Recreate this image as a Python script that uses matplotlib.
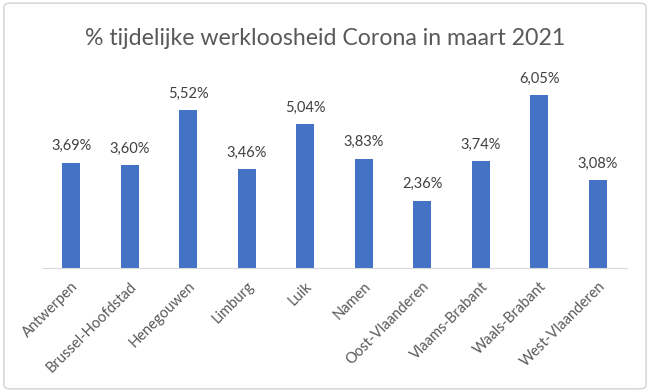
import matplotlib.pyplot as plt
from matplotlib.patches import FancyBboxPatch

provinces = ["Antwerpen", "Brussel-Hoofdstad", "Henegouwen", "Limburg", "Luik",
             "Namen", "Oost-Vlaanderen", "Vlaams-Brabant", "Waals-Brabant", "West-Vlaanderen"]
values = [3.69, 3.60, 5.52, 3.46, 5.04, 3.83, 2.36, 3.74, 6.05, 3.08]

plt.rcParams['font.family'] = ['Lato', 'DejaVu Sans']

fig = plt.figure(figsize=(6.5, 3.92), dpi=100)
ax = fig.add_axes([0.0646, 0.3163, 0.9, 0.51])

x = range(len(provinces))
bars = ax.bar(x, values, width=0.31, color="#4472C4")
for b, v in zip(bars, values):
    ax.text(b.get_x() + b.get_width() / 2, v + 0.33, f"{v:.2f}%".replace(".", ","),
            ha="center", va="bottom", fontsize=10.5, color="#404040")

ax.set_xlim(-0.5, len(provinces) - 0.5)
ax.set_ylim(0, 7)
ax.set_xticks(list(x))
ax.set_xticklabels(provinces, rotation=45, ha="right", rotation_mode="anchor",
                   fontsize=10.5, color="#595959")
ax.tick_params(axis="x", length=0, pad=8)
ax.set_yticks([])
for s in ["top", "left", "right"]:
    ax.spines[s].set_visible(False)
ax.spines["bottom"].set_color("#d9d9d9")

fig.text(0.5, 0.902, "% tijdelijke werkloosheid Corona in maart 2021",
         ha="center", va="center", fontsize=16.7, color="#595959")

frame = FancyBboxPatch((0.006, 0.008), 0.988, 0.984, boxstyle="round,pad=0,rounding_size=0.01",
                       transform=fig.transFigure, fill=False, edgecolor="#d9d9d9", linewidth=1.2)
fig.patches.append(frame)

fig.savefig("out.png", dpi=100)
